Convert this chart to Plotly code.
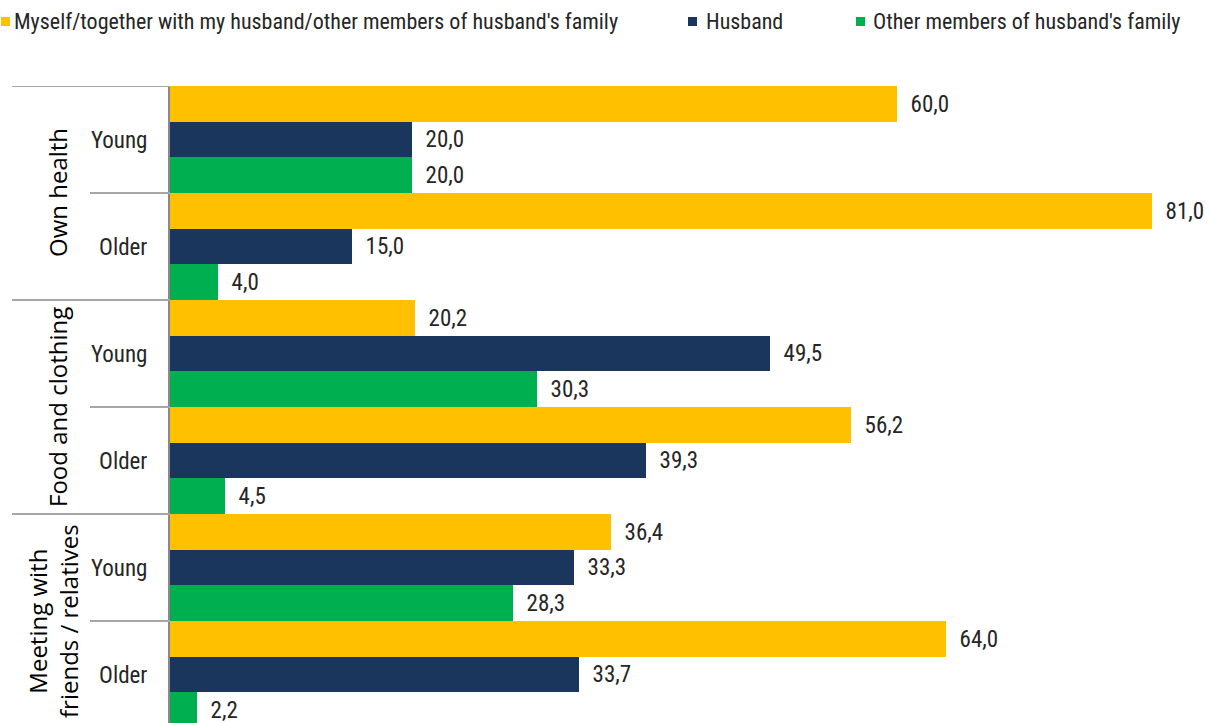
import plotly.graph_objects as go

groups = ["Own health", "Own health", "Food and clothing", "Food and clothing",
          "Meeting with<br>friends / relatives", "Meeting with<br>friends / relatives"]
ages = ["Young", "Older", "Young", "Older", "Young", "Older"]
series_names = ["Myself/together with my husband/other members of husband's family",
                "Husband", "Other members of husband's family"]
myself = [60.0, 81.0, 20.2, 56.2, 36.4, 64.0]
husband = [20.0, 15.0, 49.5, 39.3, 33.3, 33.7]
other = [20.0, 4.0, 30.3, 4.5, 28.3, 2.2]
colors = ["#FFC000", "#1B365D", "#00B050"]

keys = [f"{g} | {a}" for g, a in zip(groups, ages)]

W, H = 1209, 723
ML, MT, MR, MB = 170, 86, 0, 0
PW = W - ML - MR
PH = H - MT - MB
XMAX = PW / ((1152 - 170) / 81.0)

def px_x(px):
    return (px - ML) / PW

def px_y(py):
    return (H - MB - py) / PH

FONT = "Liberation Sans Narrow, Arial Narrow, Roboto Condensed, sans-serif"
TXT = "#262626"

fig = go.Figure()
for name, vals, col in zip(series_names, [myself, husband, other], colors):
    fig.add_trace(go.Bar(
        y=keys, x=vals, name=name, orientation="h",
        marker=dict(color=col, line=dict(width=0)),
        texttemplate="\u00a0\u00a0%{x:.1f}", textposition="outside",
        textfont=dict(family=FONT, size=23, color=TXT),
        cliponaxis=False, showlegend=False, hoverinfo="x+name",
    ))

shapes = []
annotations = []

# manual legend (squares + text)
legend_sq_x = [1, 688, 856]
legend_text_x = [12, 704, 871]
for name, col, sx, tx in zip(series_names, colors, legend_sq_x, legend_text_x):
    shapes.append(dict(type="rect", xref="paper", yref="paper",
                       x0=px_x(sx), x1=px_x(sx + 9), y0=px_y(26), y1=px_y(17),
                       fillcolor=col, line=dict(width=0)))
    annotations.append(dict(text=name, xref="paper", yref="paper",
                            x=px_x(tx), y=px_y(21.5), xanchor="left", yanchor="middle",
                            showarrow=False,
                            font=dict(family=FONT, size=22, color=TXT)))

# axis group separators
for idx in range(0, 6):
    yv = idx - 0.5
    x0 = px_x(12) if idx % 2 == 0 else px_x(90)
    shapes.append(dict(type="line", xref="paper", yref="y", x0=x0, x1=0, y0=yv, y1=yv,
                       line=dict(color="#A6A6A6", width=2)))

group_label_x = [57, 57, 53]
for k, i in enumerate(range(0, 6, 2)):
    annotations.append(dict(
        text=groups[i], xref="paper", yref="y", x=px_x(group_label_x[k]), y=i + 0.5,
        textangle=-90, showarrow=False, xanchor="center", yanchor="middle",
        font=dict(family="Open Sans, sans-serif", size=24, color="#000000"),
    ))

fig.update_layout(
    width=W, height=H,
    margin=dict(l=ML, r=MR, t=MT, b=MB, pad=0),
    paper_bgcolor="white", plot_bgcolor="white",
    barmode="group", bargap=0, bargroupgap=0,
    separators=",.",
    showlegend=False,
    shapes=shapes, annotations=annotations,
    xaxis=dict(range=[0, XMAX], visible=False, showgrid=False, zeroline=False),
    yaxis=dict(type="category", autorange=False, range=[5.5 - (728 - 723) / 107.0, -0.5],
               tickvals=keys, ticktext=ages, showgrid=False, zeroline=False,
               showline=True, linecolor="#898989", linewidth=2, ticks="",
               ticklabelstandoff=16,
               tickfont=dict(family=FONT, size=23, color=TXT)),
)

fig.write_html("out.html", config={"displayModeBar": False},
               post_script="document.body.style.margin='0';document.body.style.padding='0';")
